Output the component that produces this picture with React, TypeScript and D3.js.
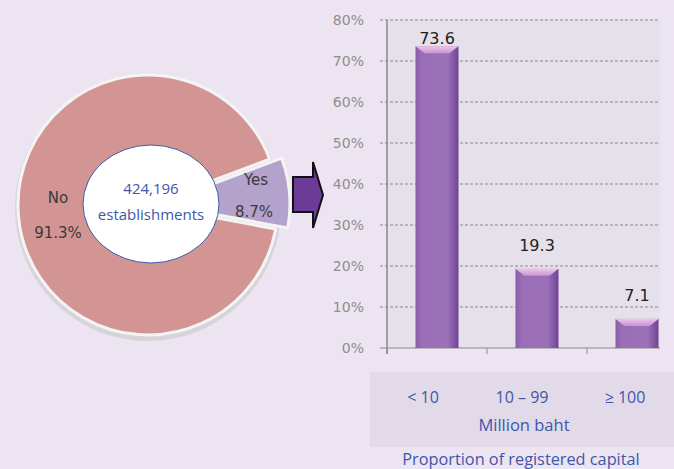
import React from 'react'
import * as d3 from 'd3'

// pie data
const pieLabels = ['Yes', 'No']
const pieValues = [8.7, 91.3]
const totalLabel = '424,196'
const totalUnit = 'establishments'

// bar data
const categories = ['< 10', '10 – 99', '≥ 100']
const shares = [73.6, 19.3, 7.1]
const yTicks = [0, 10, 20, 30, 40, 50, 60, 70, 80]

const W = 674
const H = 469

const App = () => {
  // ---- pie ----
  const cx = 148
  const cy = 205
  const R = 130
  const yesMid = (85 * Math.PI) / 180
  const yesSpan = (pieValues[0] / 100) * 2 * Math.PI
  const start = yesMid - yesSpan / 2
  const pie = d3
    .pie<number>()
    .sort(null)
    .value(d => d)
    .startAngle(start)
    .endAngle(start + 2 * Math.PI)
  const slices = pie(pieValues)
  const arc = d3.arc<d3.PieArcDatum<number>>().innerRadius(0).outerRadius(R)
  const explode = 12
  const exX = Math.sin(yesMid) * explode
  const exY = -Math.cos(yesMid) * explode

  // ---- bars ----
  const left = 387
  const top = 20
  const bottom = 348
  const clipRight = 660
  const x = d3.scaleBand<string>().domain(categories).range([left, left + 300]).padding(0)
  const y = d3.scaleLinear().domain([0, 80]).range([bottom, top])
  const bw = x.bandwidth() * 0.43
  const bevel = 7

  const blue = '#3d58a8'

  return (
    <svg width={W} height={H} style={{ position: 'absolute', left: 0, top: 0 }}>
      <defs>
        <linearGradient id="barG" x1="0" x2="1" y1="0" y2="0">
          <stop offset="0" stopColor="#8b5ca8" />
          <stop offset="0.15" stopColor="#9a6fb8" />
          <stop offset="0.75" stopColor="#9a70b7" />
          <stop offset="1" stopColor="#6f4294" />
        </linearGradient>
        <linearGradient id="bevelG" x1="0" x2="0" y1="0" y2="1">
          <stop offset="0" stopColor="#f0c4ec" />
          <stop offset="1" stopColor="#c993d4" />
        </linearGradient>
        <clipPath id="plotClip">
          <rect x={left - 10} y={0} width={clipRight - left + 10} height={H} />
        </clipPath>
      </defs>
      <rect x={0} y={0} width={W} height={H} fill="#ece4f1" />

      {/* pie */}
      <circle cx={cx} cy={cy + 3} r={R + 3} fill="#c9c9c9" opacity={0.6} />
      {slices.map((s, i) => (
        <path
          key={pieLabels[i]}
          d={arc(s) || ''}
          transform={
            i === 0 ? `translate(${cx + exX},${cy + exY})` : `translate(${cx},${cy})`
          }
          fill={i === 0 ? '#b3a2cc' : '#d39494'}
          stroke="#f4f4f4"
          strokeWidth={3}
          strokeLinejoin="round"
        />
      ))}
      <ellipse cx={151} cy={204} rx={68} ry={59} fill="#ffffff" stroke={blue} strokeWidth={1} />
      <text x={151} y={194} textAnchor="middle" fontFamily="Open Sans, sans-serif" fontSize={15} fill={blue}>
        {totalLabel}
      </text>
      <text x={151} y={220} textAnchor="middle" fontFamily="Open Sans, sans-serif" fontSize={15} fill={blue}>
        {totalUnit}
      </text>
      <g fontFamily="DejaVu Sans, sans-serif" fontSize={15} fill="#3a3a3a" textAnchor="middle">
        <text x={58} y={203}>{pieLabels[1]}</text>
        <text x={58} y={238}>{pieValues[1]}%</text>
        <text x={256} y={185}>{pieLabels[0]}</text>
        <text x={254} y={217}>{pieValues[0]}%</text>
      </g>

      {/* arrow */}
      <path
        d="M293,177 L313,177 L313,162 L323,195 L313,228 L313,212 L293,212 Z"
        fill="#6c3a97"
        stroke="#111"
        strokeWidth={2}
        strokeLinejoin="miter"
      />

      {/* plot */}
      <rect x={left} y={top} width={clipRight - left} height={bottom - top} fill="#e6e0ea" />
      <g clipPath="url(#plotClip)">
        {yTicks.map(t => (
          <line
            key={t}
            x1={left - 7}
            x2={clipRight}
            y1={y(t)}
            y2={y(t)}
            stroke="#8a8a8a"
            strokeDasharray={t === 0 ? undefined : '3,2'}
            strokeWidth={1}
          />
        ))}
        {categories.map((c, i) => {
          const x0 = (x(c) as number) + (x.bandwidth() - bw) / 2
          const y0 = y(shares[i])
          return (
            <g key={c}>
              <rect x={x0} y={y0} width={bw} height={bottom - y0} fill="url(#barG)" />
              <path
                d={`M${x0},${y0} L${x0 + bw},${y0} L${x0 + bw - 9},${y0 + bevel} L${x0 + 9},${y0 + bevel} Z`}
                fill="url(#bevelG)"
              />
            </g>
          )
        })}
        {categories.map(c => (
          <line
            key={c}
            x1={(x(c) as number)}
            x2={(x(c) as number)}
            y1={bottom}
            y2={bottom + 6}
            stroke="#8a8a8a"
          />
        ))}
      </g>
      <line x1={left} x2={left} y1={top} y2={bottom + 6} stroke="#8a8a8a" strokeWidth={1.5} />
      {yTicks.map(t => (
        <text
          key={t}
          x={364}
          y={y(t) + 5}
          textAnchor="end"
          fontFamily="DejaVu Sans, sans-serif"
          fontSize={14}
          fill="#8e8e8e"
        >
          {t}%
        </text>
      ))}
      {categories.map((c, i) => (
        <text
          key={c}
          x={(x(c) as number) + x.bandwidth() / 2}
          y={Math.max(y(shares[i]) - 18, top + 24)}
          textAnchor="middle"
          fontFamily="DejaVu Sans, sans-serif"
          fontSize={16}
          fill="#222"
        >
          {shares[i]}
        </text>
      ))}

      {/* category box */}
      <rect x={370} y={372} width={W - 370} height={75} fill="#e2d9e9" />
      {categories.map((c, i) => (
        <text
          key={c}
          x={[423, 522, 625][i]}
          y={403}
          textAnchor="middle"
          fontFamily="Open Sans, sans-serif"
          fontSize={16}
          fill={blue}
        >
          {c}
        </text>
      ))}
      <text x={524} y={431} textAnchor="middle" fontFamily="Open Sans, sans-serif" fontSize={16.5} fill={blue}>
        Million baht
      </text>
      <text x={521} y={465} textAnchor="middle" fontFamily="Open Sans, sans-serif" fontSize={16.3} fill={blue}>
        Proportion of registered capital
      </text>
    </svg>
  )
}

export default App
